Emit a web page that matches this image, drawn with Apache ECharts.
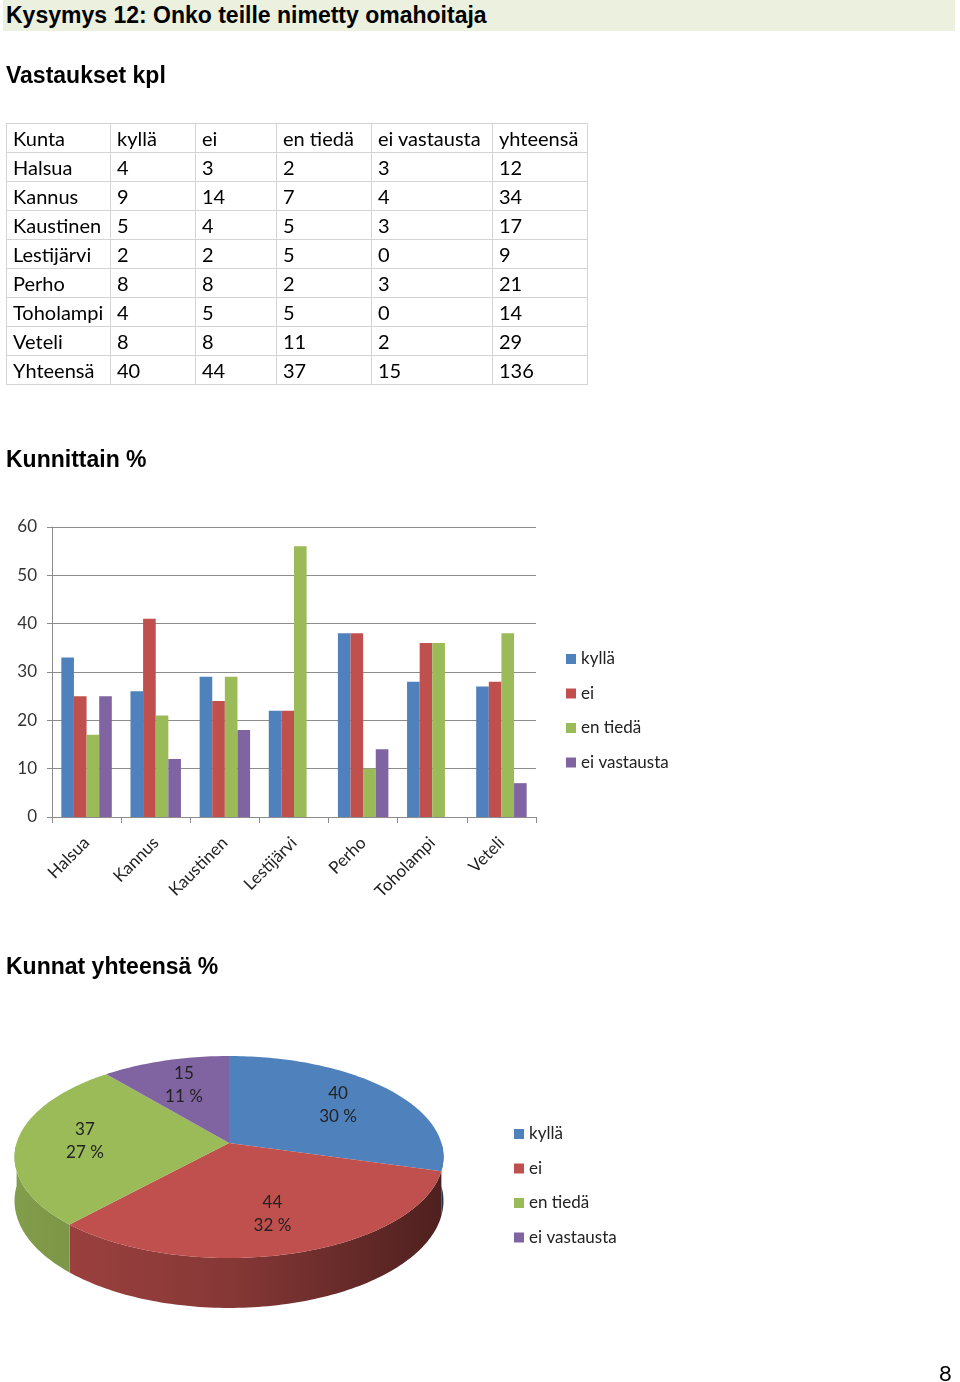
<!DOCTYPE html>
<html>
<head>
<meta charset="utf-8">
<script src="https://cdn.jsdelivr.net/npm/echarts@6/dist/echarts.min.js"></script>
<style>
  body { margin: 0; width: 960px; height: 1382px; position: relative; background: #fff; overflow: hidden; }
  #main { position: absolute; left: 0; top: 0; width: 960px; height: 1382px; }
  .banner { position: absolute; left: 3px; top: 0; width: 952px; height: 31px; background: #ebf1de; }
  .head { position: absolute; left: 6px; margin: 0; font: bold 23px "Liberation Sans", Arial, sans-serif; color: #000; line-height: 28px; }
  table { position: absolute; left: 6px; top: 123px; border-collapse: collapse; font: 20px Lato, "Open Sans", sans-serif; color: #000; }
  td { border: 1px solid #d4d4d4; height: 28px; padding: 0 0 0 6px; line-height: 28px; white-space: nowrap; }
  .page { position: absolute; left: 939px; top: 1359px; font: 22px Lato, sans-serif; color: #000; }
</style>
</head>
<body>
<div id="main"></div>
<div class="banner"></div>
<p class="head" style="top:1px">Kysymys 12: Onko teille nimetty omahoitaja</p>
<p class="head" style="top:61px">Vastaukset kpl</p>
<table id="tbl"></table>
<p class="head" style="top:445px">Kunnittain %</p>
<p class="head" style="top:952px">Kunnat yhteensä %</p>
<div class="page">8</div>

<script>
// taulukko (kpl)
const municipalities = ['Halsua', 'Kannus', 'Kaustinen', 'Lestijärvi', 'Perho', 'Toholampi', 'Veteli']
const answers = ['kyllä', 'ei', 'en tiedä', 'ei vastausta']
const countYes = [4, 9, 5, 2, 8, 4, 8]
const countNo = [3, 14, 4, 2, 8, 5, 8]
const countDontKnow = [2, 7, 5, 5, 2, 5, 11]
const countNoAnswer = [3, 4, 3, 0, 3, 0, 2]
const countTotal = [12, 34, 17, 9, 21, 14, 29]
const totalsRow = [40, 44, 37, 15, 136]

// kunnittain % (luettu kuvasta)
const pctYes = [33, 26, 29, 22, 38, 28, 27]
const pctNo = [25, 41, 24, 22, 38, 36, 28]
const pctDontKnow = [17, 21, 29, 56, 10, 36, 38]
const pctNoAnswer = [25, 12, 18, 0, 14, 0, 7]
const yTicks = [0, 10, 20, 30, 40, 50, 60]

// kunnat yhteensä
const pieValues = [40, 44, 37, 15]
const piePercents = ['30 %', '32 %', '27 %', '11 %']

const colors = ['#4f81bd', '#c0504d', '#9bbb59', '#8064a2']

// build the table
const colWidths = [97, 78, 74, 88, 114, 88]
const rows = [['Kunta'].concat(answers, ['yhteensä'])]
municipalities.forEach((m, i) => {
  rows.push([m, countYes[i], countNo[i], countDontKnow[i], countNoAnswer[i], countTotal[i]])
})
rows.push(['Yhteensä'].concat(totalsRow))
document.getElementById('tbl').innerHTML = rows.map(r =>
  '<tr>' + r.map((c, j) => '<td style="width:' + colWidths[j] + 'px">' + c + '</td>').join('') + '</tr>'
).join('')

const chart = echarts.init(document.getElementById('main'))

// 3D pie, simple perspective (front nearer -> bigger)
const pie = { cx: 229, cy: 1143, a: 212.4, b: 99.06, k: 0.1386, depth: 43 }
const pieTotal = pieValues.reduce((a, b) => a + b, 0)

function shade(hex, f) {
  const n = parseInt(hex.slice(1), 16)
  const r = Math.round(((n >> 16) & 255) * f)
  const g = Math.round(((n >> 8) & 255) * f)
  const b = Math.round((n & 255) * f)
  return 'rgb(' + r + ',' + g + ',' + b + ')'
}

// angle from 12 o'clock clockwise, r = radius fraction, down = side wall
function pt(t, r, down) {
  const u = Math.sin(t) * r
  const v = -Math.cos(t) * r
  const w = 1 - pie.k * v
  return [pie.cx + pie.a * u / w, pie.cy + pie.b * v / w + (down ? pie.depth / w : 0)]
}

function arc(s, e, down) {
  const pts = []
  const n = Math.max(2, Math.ceil((e - s) / 0.02))
  for (let k = 0; k <= n; k++) pts.push(pt(s + (e - s) * k / n, 1, down))
  return pts
}

function renderSlice(params, api) {
  const i = params.dataIndex
  let before = 0
  for (let k = 0; k < i; k++) before += pieValues[k]
  const t0 = before / pieTotal * Math.PI * 2
  const t1 = (before + api.value(0)) / pieTotal * Math.PI * 2
  const color = colors[i]
  const children = []

  // front side wall
  const s = Math.max(t0, Math.PI / 2)
  const e = Math.min(t1, Math.PI * 1.5)
  if (e > s) {
    const top = arc(s, e, false)
    const bottom = arc(s, e, true).reverse()
    children.push({
      type: 'polygon',
      shape: { points: top.concat(bottom) },
      style: {
        fill: new echarts.graphic.LinearGradient(pie.cx - 215, 0, pie.cx + 215, 0, [
          { offset: 0, color: shade(color, 0.84) },
          { offset: 0.5, color: shade(color, 0.7) },
          { offset: 1, color: shade(color, 0.4) }
        ], true)
      }
    })
  }

  // top face
  children.push({
    type: 'polygon',
    shape: { points: [pt(0, 0, false)].concat(arc(t0, t1, false)) },
    style: { fill: color }
  })

  // label
  const lp = pt((t0 + t1) / 2, 0.68, false)
  children.push({
    type: 'text',
    x: lp[0],
    y: lp[1],
    style: {
      text: api.value(0) + '\n' + piePercents[i],
      align: 'center',
      verticalAlign: 'middle',
      fontFamily: 'Lato',
      fontSize: 17,
      lineHeight: 23,
      fill: '#222'
    }
  })
  return { type: 'group', children: children }
}

const pctSeries = [pctYes, pctNo, pctDontKnow, pctNoAnswer]

const legendBase = {
  data: answers,
  orient: 'vertical',
  padding: 0,
  itemWidth: 10,
  itemHeight: 10,
  itemGap: 14.5,
  icon: 'rect',
  textStyle: { fontSize: 17, lineHeight: 20, color: '#222' }
}

chart.setOption({
  animation: false,
  color: colors,
  textStyle: { fontFamily: 'Lato' },
  legend: [
    Object.assign({}, legendBase, { left: 566, top: 649 }),
    Object.assign({}, legendBase, { left: 514, top: 1124 })
  ],
  grid: { left: 52, top: 527, width: 484, height: 290, containLabel: false },
  xAxis: {
    type: 'category',
    data: municipalities,
    axisLine: { lineStyle: { color: '#8c8c8c' } },
    axisTick: { show: true, length: 6, lineStyle: { color: '#8c8c8c' } },
    axisLabel: { rotate: 45, fontSize: 17, color: '#222', margin: 23, interval: 0 }
  },
  yAxis: {
    type: 'value',
    min: yTicks[0],
    max: yTicks[yTicks.length - 1],
    interval: 10,
    axisLine: { show: true, lineStyle: { color: '#8c8c8c' } },
    axisTick: { show: true, length: 5, lineStyle: { color: '#8c8c8c' } },
    axisLabel: { fontSize: 17, color: '#333', margin: 15 },
    splitLine: { lineStyle: { color: '#8c8c8c' } }
  },
  series: answers.map((name, i) => ({
    name: name,
    type: 'bar',
    data: pctSeries[i],
    barGap: '0%',
    barCategoryGap: '27%'
  })).concat([{
    name: 'Kunnat yhteensä',
    type: 'custom',
    coordinateSystem: 'none',
    renderItem: renderSlice,
    data: pieValues.map((v, i) => ({ name: answers[i], value: [v] }))
  }])
})
</script>
</body>
</html>
